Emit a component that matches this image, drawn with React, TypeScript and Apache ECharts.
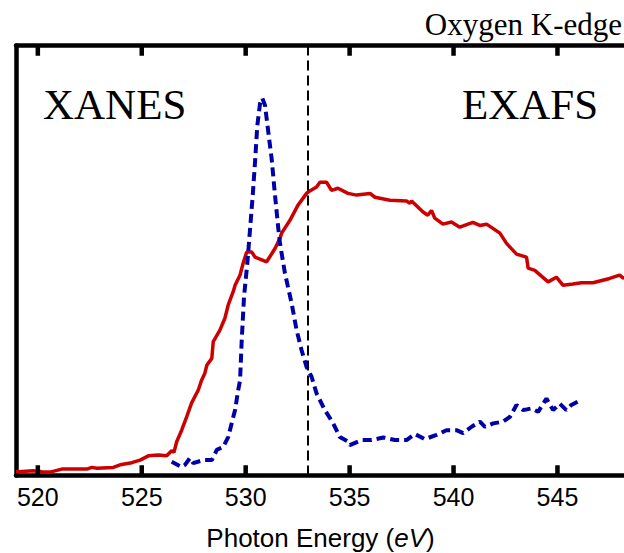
import React, { useEffect, useRef } from "react";
import * as echarts from "echarts";

const tickValues = [520, 525, 530, 535, 540, 545];
const tickLabels = ["520", "525", "530", "535", "540", "545"];
const edgeEnergy = 533;

const redEnergy = [
  518.95, 519.07, 519.77, 520.19, 520.59, 521.15, 522.36, 522.6, 522.84, 523.63, 523.96, 524.52,
  524.92, 525.32, 525.8, 526.2, 526.44, 526.55, 526.68, 526.92, 527.16, 527.4, 527.72, 527.88,
  528.04, 528.13, 528.37, 528.44, 528.76, 529.0, 529.16, 529.4, 529.49, 529.73, 529.88, 530.05,
  530.29, 530.45, 531.01, 531.41, 531.65, 531.73, 532.13, 532.51, 532.93, 533.0, 533.41, 533.57,
  533.89, 534.13, 534.44, 534.92, 535.34, 535.98, 536.22, 536.94, 537.74, 537.9, 537.98, 538.52,
  538.76, 538.94, 539.1, 539.49, 539.9, 540.3, 540.93, 541.26, 541.59, 542.23, 542.55, 543.03,
  543.51, 543.59, 543.91, 544.55, 544.95, 545.27, 545.75, 546.15, 546.71, 547.51, 547.99, 548.15,
  548.6, 549.5,
];
const redIntensity = [
  0.003, 0.003, 0.005, 0.003, 0.002, 0.009, 0.009, 0.013, 0.011, 0.013, 0.019, 0.024,
  0.03, 0.04, 0.042, 0.04, 0.052, 0.048, 0.073, 0.1, 0.131, 0.164, 0.194, 0.217,
  0.234, 0.252, 0.268, 0.307, 0.334, 0.362, 0.393, 0.424, 0.439, 0.463, 0.491, 0.517,
  0.517, 0.505, 0.494, 0.525, 0.549, 0.561, 0.591, 0.626, 0.654, 0.657, 0.669, 0.68,
  0.68, 0.661, 0.666, 0.654, 0.65, 0.654, 0.645, 0.638, 0.636, 0.631, 0.636, 0.611,
  0.603, 0.614, 0.596, 0.582, 0.587, 0.575, 0.586, 0.579, 0.582, 0.561, 0.537, 0.512,
  0.505, 0.479, 0.474, 0.447, 0.458, 0.439, 0.442, 0.445, 0.445, 0.455, 0.463, 0.456,
  0.46, 0.455,
];

const blueEnergy = [
  526.44, 526.92, 527.08, 527.32, 527.48, 527.96, 528.37, 528.61, 528.92, 529.16, 529.33, 529.49,
  529.64, 529.73, 529.81, 529.92, 530.08, 530.21, 530.34, 530.45, 530.56, 530.69, 530.8, 530.93,
  531.09, 531.25, 531.41, 531.57, 531.65, 531.89, 532.21, 532.45, 532.69, 532.93, 533.17, 533.41,
  533.81, 534.21, 534.53, 534.93, 535.01, 535.58, 536.06, 536.62, 537.18, 537.74, 538.14, 538.62,
  539.18, 539.66, 540.14, 540.46, 540.87, 541.27, 541.51, 541.91, 542.39, 542.71, 543.03, 543.35,
  543.75, 544.07, 544.47, 544.79, 545.11, 545.43, 545.67, 545.99,
];
const blueIntensity = [
  0.026, 0.014, 0.019, 0.035, 0.023, 0.03, 0.03, 0.054, 0.061, 0.084, 0.117, 0.147,
  0.194, 0.217, 0.311, 0.412, 0.491, 0.57, 0.65, 0.728, 0.813, 0.864, 0.877, 0.86,
  0.797, 0.735, 0.65, 0.572, 0.537, 0.467, 0.397, 0.334, 0.287, 0.248, 0.225, 0.186,
  0.147, 0.116, 0.084, 0.073, 0.065, 0.077, 0.077, 0.083, 0.077, 0.077, 0.091, 0.079,
  0.089, 0.1, 0.1, 0.093, 0.108, 0.12, 0.108, 0.116, 0.12, 0.131, 0.159, 0.147,
  0.151, 0.143, 0.174, 0.147, 0.162, 0.147, 0.159, 0.167,
];

export default function App() {
  const ref = useRef<HTMLDivElement>(null);
  useEffect(() => {
    if (!ref.current) return;
    const chart = echarts.init(ref.current, null, { renderer: "svg" });
    const redData = redEnergy.map((x, i) => [x, redIntensity[i]]);
    const blueData = blueEnergy.map((x, i) => [x, blueIntensity[i]]);
    const xMin = 518.95;
    const xMax = 549.5;
    const yMin = -0.006;
    const yMax = 1;
    const tickLen = 0.024;
    const tickSet = new Set(tickLabels);
    // tick marks as short vertical segments, broken apart by empty points
    const tickData: any[] = [];
    tickValues.forEach((v) => {
      tickData.push([v, yMin], [v, yMin + tickLen], [v, "-"]);
      tickData.push([v, yMax - tickLen], [v, yMax], [v, "-"]);
    });
    const axisCommon = {
      type: "value",
      min: xMin,
      max: xMax,
      splitNumber: 6,
      axisLine: { show: true, onZero: false, lineStyle: { color: "#000", width: 4.5 } },
      axisTick: { show: false },
      splitLine: { show: false },
    };
    chart.setOption({
      animation: false,
      backgroundColor: "#fff",
      grid: {
        left: 16,
        top: 45.5,
        width: 635,
        height: 430,
        containLabel: false,
        outerBoundsMode: "none",
      },
      xAxis: [
        {
          ...axisCommon,
          position: "bottom",
          axisLabel: {
            show: true,
            showMinLabel: false,
            showMaxLabel: false,
            fontFamily: "Liberation Sans",
            fontSize: 25,
            color: "#000",
            margin: 9,
            formatter: (v: number) => {
              const s = String(Math.round(v * 100) / 100);
              return tickSet.has(s) ? s : "";
            },
          },
        },
        {
          ...axisCommon,
          position: "top",
          axisLabel: { show: false },
        },
      ],
      yAxis: {
        type: "value",
        min: yMin,
        max: yMax,
        axisLine: { show: true, onZero: false, lineStyle: { color: "#000", width: 4.5 } },
        axisTick: { show: false },
        axisLabel: { show: false },
        splitLine: { show: false },
      },
      series: [
        {
          type: "line",
          data: tickData,
          showSymbol: false,
          symbol: "none",
          connectNulls: false,
          clip: false,
          silent: true,
          lineStyle: { color: "#000", width: 4.5, cap: "butt" },
          z: 5,
        },
        {
          type: "line",
          data: redData,
          showSymbol: false,
          symbol: "none",
          lineStyle: { color: "#cc0000", width: 3.5 },
          z: 3,
          markLine: {
            silent: true,
            symbol: ["none", "none"],
            label: { show: false },
            lineStyle: { color: "#000", type: [10, 5], width: 2 },
            data: [{ xAxis: edgeEnergy }],
          },
        },
        {
          type: "line",
          data: blueData,
          showSymbol: false,
          symbol: "none",
          lineStyle: { color: "#0000a8", width: 4, type: [9, 5] },
          z: 4,
        },
      ],
      graphic: [
        {
          type: "text",
          x: 622,
          y: 24.5,
          style: {
            text: "Oxygen K-edge",
            fontFamily: "Liberation Serif",
            fontSize: 31,
            fill: "#000",
            align: "right",
            verticalAlign: "middle",
          },
        },
        {
          type: "text",
          x: 43,
          y: 104,
          style: {
            text: "XANES",
            fontFamily: "Liberation Serif",
            fontSize: 43,
            fill: "#000",
            align: "left",
            verticalAlign: "middle",
          },
        },
        {
          type: "text",
          x: 462,
          y: 104,
          style: {
            text: "EXAFS",
            fontFamily: "Liberation Serif",
            fontSize: 43,
            fill: "#000",
            align: "left",
            verticalAlign: "middle",
          },
        },
        {
          type: "text",
          x: 320.5,
          y: 537.5,
          style: {
            text: "{a|Photon Energy (}{b|eV}{a|)}",
            align: "center",
            verticalAlign: "middle",
            fill: "#000",
            rich: {
              a: { fontFamily: "Liberation Sans", fontSize: 26, fill: "#000" },
              b: { fontFamily: "Liberation Sans", fontSize: 26, fontStyle: "italic", fill: "#000" },
            },
          },
        },
      ],
    });
    return () => chart.dispose();
  }, []);
  return (
    <div
      ref={ref}
      style={{ position: "absolute", left: 0, top: 0, width: 624, height: 553 }}
    />
  );
}
